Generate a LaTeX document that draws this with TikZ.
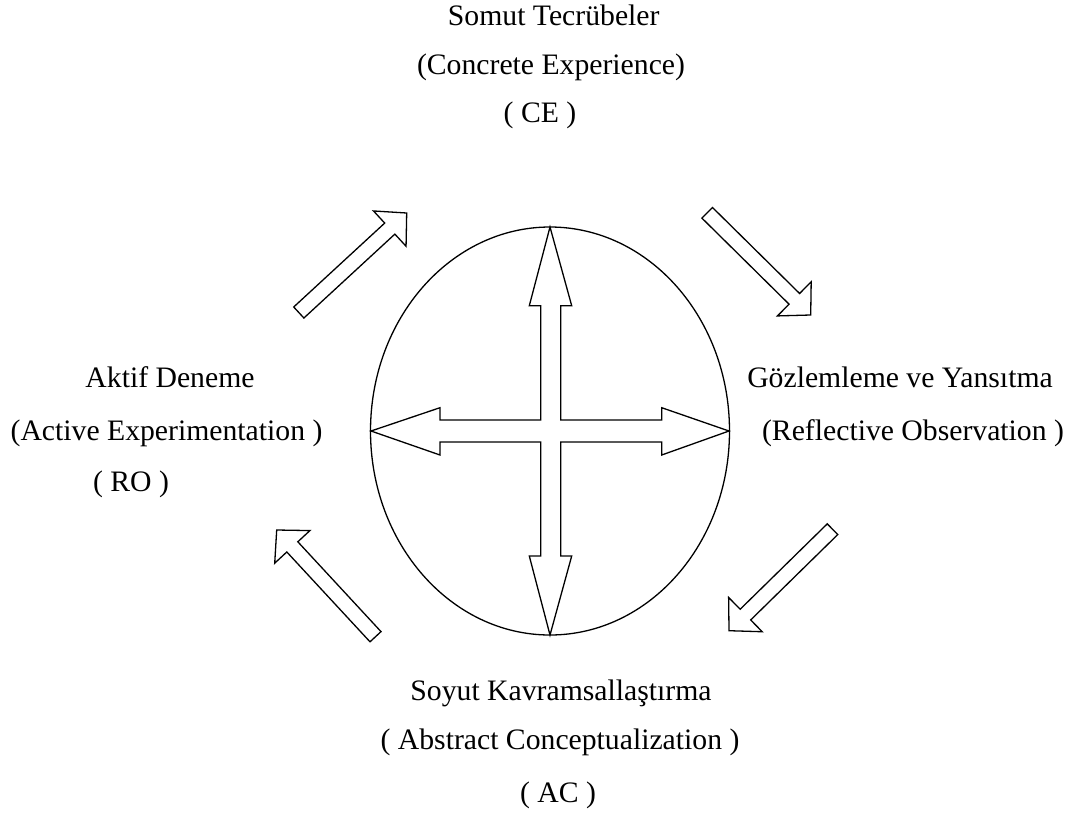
\documentclass[tikz,border=0pt]{standalone}
\usepackage{fontspec}
\setmainfont{Liberation Serif}
\usetikzlibrary{calc,shapes.geometric}
\tikzset{
  shapeline/.style={draw=black, line width=1.3pt, line join=miter, fill=white},
  lbl/.style={anchor=base, inner sep=0pt, font=\fontsize{29.7}{34}\selectfont}
}
\newcommand\blockarrow[4]{%
  \pgfmathsetmacro\bdx{#3-#1}%
  \pgfmathsetmacro\bdy{#4-#2}%
  \pgfmathsetmacro\bang{atan2(-\bdy,\bdx)}%
  \pgfmathsetmacro\blen{veclen(\bdx,\bdy)}%
  \pgfmathsetmacro\bhb{\blen-23}%
  \begin{scope}[shift={(#1,#2)},rotate=\bang]
    \draw[shapeline] (0,-7.5) -- (\bhb,-7.5) -- (\bhb,-24) -- (\blen,0) -- (\bhb,24) -- (\bhb,7.5) -- (0,7.5) -- cycle;
  \end{scope}}
\begin{document}
\begin{tikzpicture}[x=1pt,y=-1pt]
\useasboundingbox (0,0) rectangle (1075,812);
% ellipse
\node[draw=black, line width=1.3pt, ellipse, minimum width=359pt, minimum height=408pt, inner sep=0pt] (oval) at (550,431) {};
% cross
\draw[shapeline] (550,227) -- (571.7,305.7) -- (560.7,305.7) -- (560.7,420) -- (661.7,420) -- (661.7,407.7) -- (729,431) -- (661.7,455) -- (661.7,442) -- (560.7,442) -- (560.7,556) -- (571.7,556) -- (550,635) -- (529.3,556) -- (540.7,556) -- (540.7,442) -- (440,442) -- (440,455) -- (371,431) -- (440,407.7) -- (440,420) -- (540.7,420) -- (540.7,305.7) -- (529.3,305.7) -- cycle;
% diagonal block arrows
\blockarrow{298.8}{312.5}{406.7}{213}
\blockarrow{707.2}{212.8}{810.7}{315}
\blockarrow{832.5}{529.2}{729}{630.7}
\blockarrow{375.5}{636.7}{276.7}{530}
% labels
\node[lbl] (ce1) at (553.7,25) {Somut Tecrübeler};
\node[lbl] (ce2) at (551,74) {(Concrete Experience)};
\node[lbl] (ce3) at (540,122) {( CE )};
\node[lbl] (ro1) at (900,387) {Gözlemleme ve Yansıtma};
\node[lbl] (ro2) at (913,440) {(Reflective Observation )};
\node[lbl] (ae1) at (170,387) {Aktif Deneme};
\node[lbl] (ae2) at (166.5,440) {(Active Experimentation )};
\node[lbl] (ae3) at (131,491) {( RO )};
\node[lbl] (ac1) at (561,700) {Soyut Kavramsallaştırma};
\node[lbl] (ac2) at (560,749) {( Abstract Conceptualization )};
\node[lbl] (ac3) at (558,802) {( AC )};
\end{tikzpicture}
\end{document}
